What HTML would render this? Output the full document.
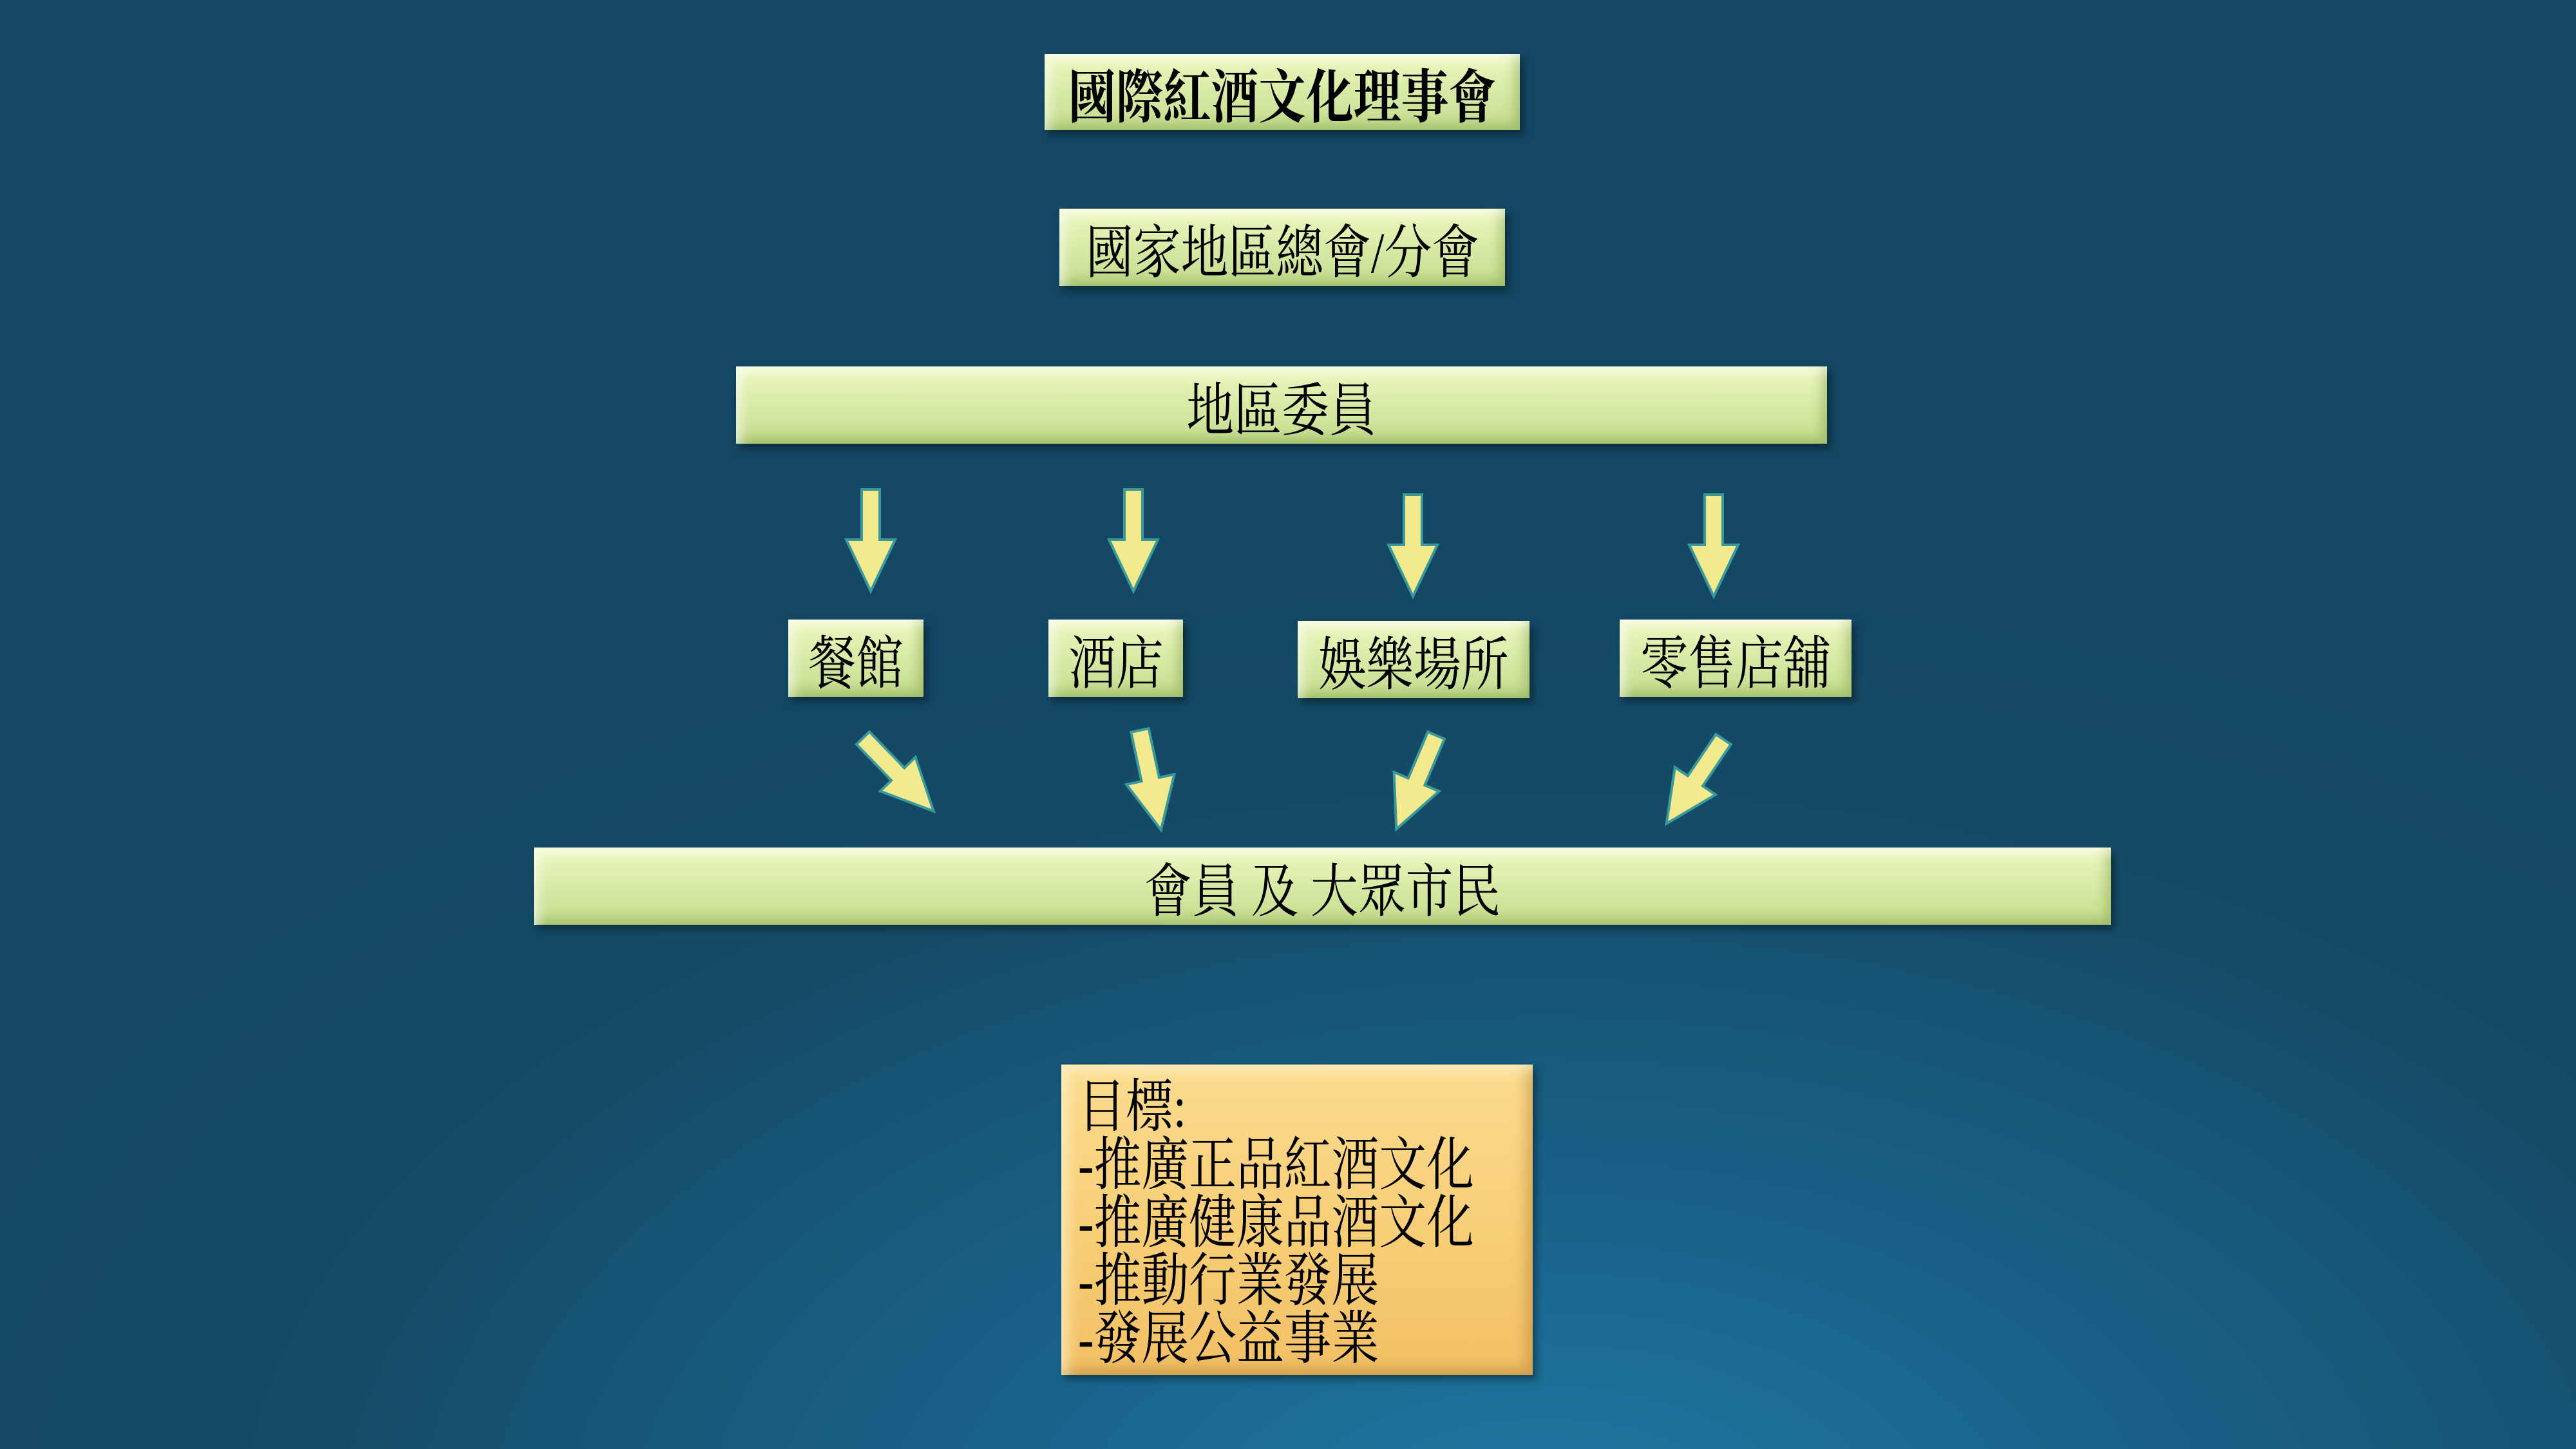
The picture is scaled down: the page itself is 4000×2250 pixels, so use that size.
<!DOCTYPE html>
<html><head><meta charset="utf-8"><style>
html,body{margin:0;padding:0}
body{width:4000px;height:2250px;position:relative;overflow:hidden;
background:radial-gradient(ellipse 2600px 1500px at 2400px 2400px,#1f7aa3 0%,#19628a 35%,#154b66 75%,#134763 100%);
font-family:"Liberation Serif","Noto Serif CJK SC",serif;}
.b{position:absolute;box-sizing:border-box;display:flex;align-items:center;justify-content:center;
background:linear-gradient(#eef8c2,#d9eca8 45%,#c4dc8e);
box-shadow:inset 14px 14px 18px -6px rgba(255,255,255,.6),inset -14px -14px 18px -6px rgba(120,150,60,.45),6px 8px 10px rgba(0,0,0,.35);
color:#000;font-size:90px;white-space:nowrap}
.b span,.g span{display:inline-block;transform:scaleX(.82)}
.g{position:absolute;box-sizing:border-box;left:1648px;top:1653px;width:732px;height:482px;
background:linear-gradient(#fbdc90,#f8cf78 50%,#f2c066);
box-shadow:inset 16px 16px 20px -6px rgba(255,250,220,.6),inset -16px -16px 20px -6px rgba(170,120,40,.45),6px 8px 10px rgba(0,0,0,.35);
font-size:90px;line-height:90px;padding:22px 0 0 26px}
.g div{transform:scaleX(.82);transform-origin:left center;white-space:nowrap}
</style></head><body>
<div class="b" style="left:1622px;top:84px;width:738px;height:118px;font-weight:bold"><span>國際紅酒文化理事會</span></div>
<div class="b" style="left:1645px;top:324px;width:692px;height:120px"><span>國家地區總會/分會</span></div>
<div class="b" style="left:1143px;top:569px;width:1694px;height:120px"><span>地區委員</span></div>
<div class="b" style="left:1224px;top:962px;width:210px;height:120px"><span>餐館</span></div>
<div class="b" style="left:1628px;top:962px;width:209px;height:120px"><span>酒店</span></div>
<div class="b" style="left:2015px;top:964px;width:360px;height:120px"><span>娛樂場所</span></div>
<div class="b" style="left:2515px;top:962px;width:360px;height:120px"><span>零售店舖</span></div>
<div class="b" style="left:829px;top:1316px;width:2449px;height:120px"><span>會員 及 大眾市民</span></div>
<div class="g"><div>目標:</div><div>-推廣正品紅酒文化</div><div>-推廣健康品酒文化</div><div>-推動行業發展</div><div>-發展公益事業</div></div>
<svg width="4000" height="2250" style="position:absolute;left:0;top:0" viewBox="0 0 4000 2250">
<defs>
<polygon id="ad" points="-14,0 14,0 14,78 38,78 0,158 -38,78 -14,78" fill="#f3ea8e" stroke="#3a9a9a" stroke-width="4" stroke-linejoin="miter"/>
</defs>
<use href="#ad" transform="translate(1352,760)"/>
<use href="#ad" transform="translate(1760,760)"/>
<use href="#ad" transform="translate(2194,768)"/>
<use href="#ad" transform="translate(2661,768)"/>
<use href="#ad" transform="translate(1340,1146) rotate(-44)"/>
<use href="#ad" transform="translate(1770,1134) rotate(-12)"/>
<use href="#ad" transform="translate(2230,1142) rotate(23)"/>
<use href="#ad" transform="translate(2676,1148) rotate(34)"/>
</svg>
</body></html>
